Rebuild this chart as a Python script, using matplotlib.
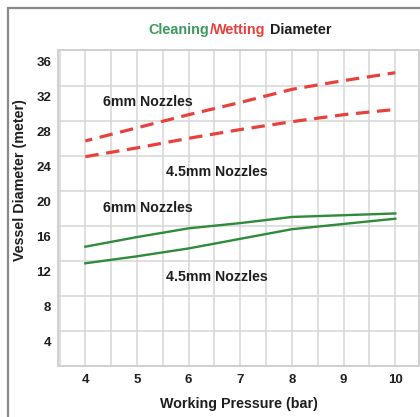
import matplotlib
matplotlib.use("Agg")
import matplotlib.pyplot as plt
import numpy as np
from matplotlib.patches import Rectangle

plt.rcParams["font.family"] = ["Liberation Sans", "DejaVu Sans"]
plt.rcParams["font.weight"] = "bold"

# --- data ---
pressure = [4, 5, 6, 7, 8, 9, 10]
wetting_6mm = [26.9, 28.4, 29.9, 31.3, 32.8, 33.8, 34.7]
wetting_45mm = [25.1, 26.1, 27.2, 28.2, 29.1, 29.9, 30.5]
cleaning_6mm = [14.8, 15.9, 16.9, 17.5, 18.2, 18.4, 18.6]
cleaning_45mm = [12.9, 13.7, 14.6, 15.7, 16.8, 17.4, 18.0]

x_ticks = [4, 5, 6, 7, 8, 9, 10]
y_ticks = [4, 8, 12, 16, 20, 24, 28, 32, 36]

GREEN = "#2f8a3c"
RED = "#e8413b"
GRID = "#d6d6d6"
TEXT = "#1e1e1e"

W, H = 420, 417
fig = plt.figure(figsize=(W / 100, H / 100), dpi=100)

# outer frame of the original graphic
fig.patches.append(Rectangle((8 / W, -0.05), 1.2, 1 - 8 / H + 0.05, transform=fig.transFigure,
                             fill=False, edgecolor="#8a8a8a", linewidth=1.6))

ax = fig.add_axes([58 / W, 51 / H, 361 / W, 316 / H])
ax.set_xlim(3.47, 10.46)
ax.set_ylim(1.15, 37.3)

ax.plot(pressure, wetting_6mm, color=RED, lw=2.3, linestyle=(2, (4.2, 2.4)), solid_capstyle="butt")
ax.plot(pressure, wetting_45mm, color=RED, lw=2.3, linestyle=(0, (4.2, 2.4)))
ax.plot(pressure, cleaning_6mm, color=GREEN, lw=1.7)
ax.plot(pressure, cleaning_45mm, color=GREEN, lw=1.7)

label_kw = dict(fontsize=10.2, fontweight="bold", color=TEXT, ha="center", va="center")
ax.text(5.21, 31.3, "6mm Nozzles", **label_kw)
ax.text(6.55, 23.4, "4.5mm Nozzles", **label_kw)
ax.text(5.21, 19.2, "6mm Nozzles", **label_kw)
ax.text(6.55, 11.3, "4.5mm Nozzles", **label_kw)

# labels sit at the values, the grid is offset as in the source
ax.set_xticks(x_ticks)
ax.set_xticks(np.arange(3.5, 10.5, 0.5), minor=True)
ax.set_yticks(y_ticks)
ax.set_yticks(np.arange(5.15, 37, 4), minor=True)
ax.tick_params(which="both", length=0)
ax.tick_params(axis="x", pad=6, labelsize=9.5, labelcolor=TEXT)
ax.tick_params(axis="y", pad=5, labelsize=9.5, labelcolor=TEXT)
for lbl in ax.get_xticklabels() + ax.get_yticklabels():
    lbl.set_fontweight("bold")
ax.grid(False)
ax.grid(True, which="minor", axis="y", color=GRID, lw=1.1)
ax.grid(True, which="both", axis="x", color=GRID, lw=1.1)
ax.set_axisbelow(True)
for s in ax.spines.values():
    s.set_color("#cfcfcf")
    s.set_linewidth(1.4)

ax.set_xlabel("Working Pressure (bar)", fontsize=10.3, fontweight="bold", color=TEXT, labelpad=8)
fig.text(20 / W, 1 - 180 / H, "Vessel Diameter (meter)", rotation=90, fontsize=10.3,
         fontweight="bold", color=TEXT, ha="center", va="center")

# multi-coloured title
parts = [("Cleaning", "#3d9a5c"), ("/", RED), ("Wetting", RED), (" Diameter", TEXT)]
renderer = fig.canvas.get_renderer()
texts = []
widths = []
for s, c in parts:
    t = fig.text(0, 1 - 30 / H, s, color=c, fontsize=10.4, fontweight="bold", va="center", ha="left")
    texts.append(t)
    widths.append(t.get_window_extent(renderer).width)
x0 = 240 - sum(widths) / 2
for t, w in zip(texts, widths):
    t.set_x(x0 / W)
    x0 += w

fig.savefig("out.png", dpi=100)
